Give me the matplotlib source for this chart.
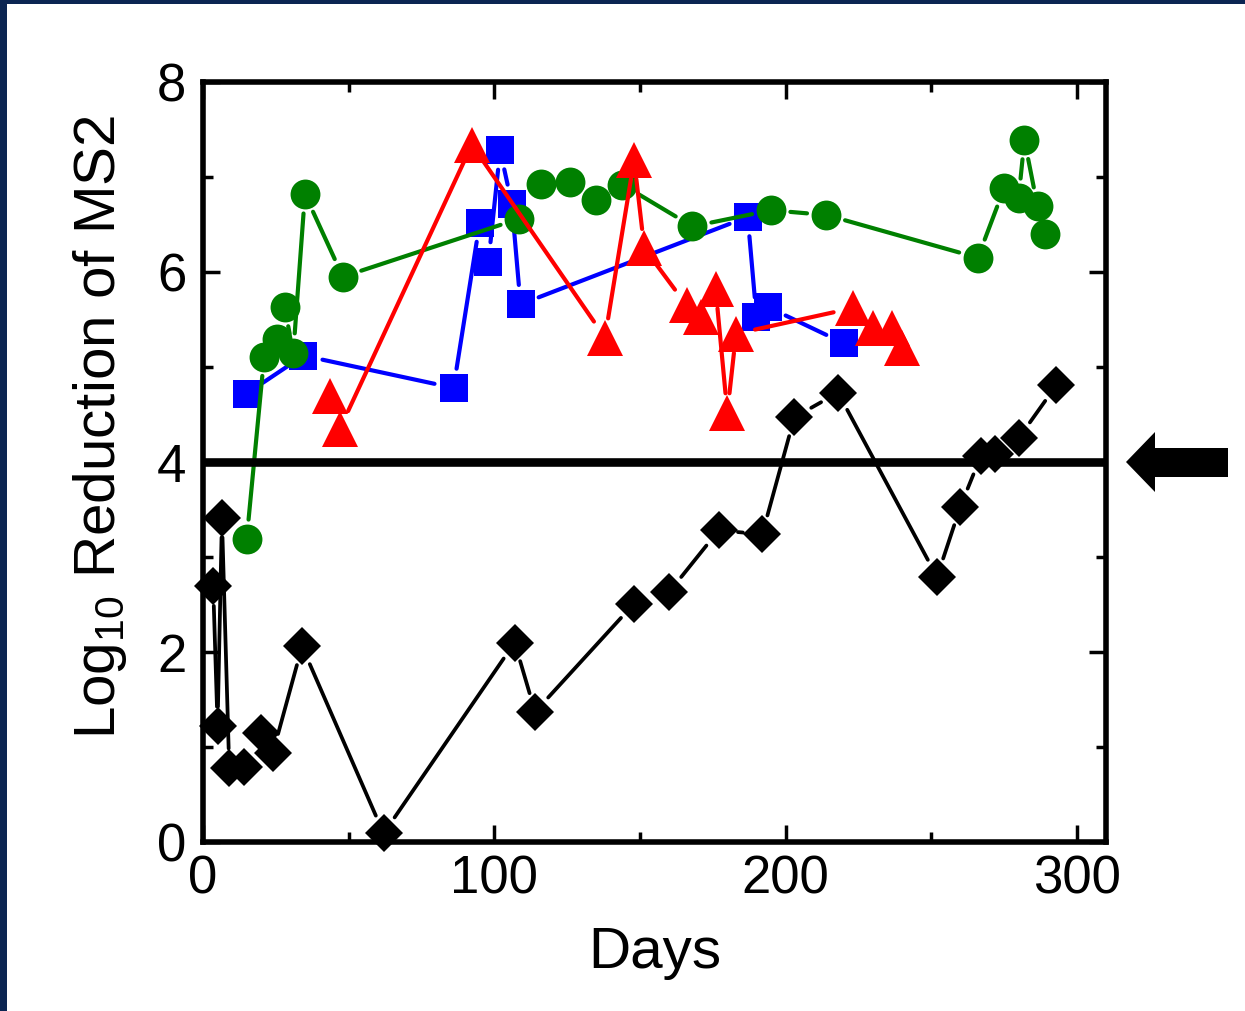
import matplotlib
matplotlib.use('Agg')
import matplotlib.pyplot as plt
from matplotlib.patches import Rectangle, Polygon
from matplotlib.ticker import MultipleLocator
import numpy as np

plt.rcParams['font.family'] = ['Liberation Sans', 'DejaVu Sans']
plt.rcParams['mathtext.fontset'] = 'custom'
plt.rcParams['mathtext.rm'] = 'Liberation Sans'
plt.rcParams['mathtext.it'] = 'Liberation Sans:italic'
plt.rcParams['mathtext.bf'] = 'Liberation Sans:bold'

# ---------------- data ----------------
black_days = [3.5, 5, 6.5, 9, 14, 20, 24, 34, 62, 107, 114, 148, 160, 177, 192,
              203, 218, 252, 260, 267, 272, 280, 293]
black_vals = [2.69, 1.22, 3.41, 0.78, 0.79, 1.15, 0.94, 2.06, 0.09, 2.10, 1.37, 2.51,
              2.63, 3.28, 3.24, 4.47, 4.73, 2.79, 3.53, 4.06, 4.08, 4.25, 4.81]

blue_days = [15, 34.5, 86, 95, 98, 102, 106, 109, 187, 190, 194, 220]
blue_vals = [4.72, 5.12, 4.78, 6.52, 6.11, 7.28, 6.72, 5.66, 6.58, 5.53, 5.63, 5.25]

green_days = [15, 21, 25.5, 28, 31, 35, 48, 108.5, 116, 126, 135, 144, 168, 195, 214,
              266, 275, 280, 282, 286.5, 289]
green_vals = [3.19, 5.11, 5.30, 5.63, 5.15, 6.82, 5.95, 6.56, 6.93, 6.95, 6.76, 6.92,
              6.48, 6.65, 6.60, 6.15, 6.88, 6.78, 7.39, 6.69, 6.40]

red_days = [43.5, 47, 92.3, 138, 148, 151.5, 166, 171, 176, 180, 183, 223, 230, 236.5, 240]
red_vals = [4.69, 4.35, 7.34, 5.31, 7.18, 6.25, 5.65, 5.53, 5.82, 4.52, 5.35, 5.62,
            5.41, 5.41, 5.20]

threshold = 4
x_major = [0, 100, 200, 300]
y_major = [0, 2, 4, 6, 8]

# ---------------- figure ----------------
W, H = 1245, 1011
fig = plt.figure(figsize=(W / 100, H / 100), dpi=100)
fig.patch.set_facecolor('white')


def fx(x):
    return x / W


def fy(y):
    return (H - y) / H


ax = fig.add_axes([fx(203), fy(842), (1106 - 203) / W, (842 - 82) / H])
ax.set_xlim(0, 310)
ax.set_ylim(0, 8)

GAP = 14  # points


def draw_series(days, vals, color, marker, ms, z, lw=3.0):
    pts = ax.transData.transform(np.column_stack([days, vals]))
    gap_px = GAP * fig.dpi / 72.0
    for i in range(len(days) - 1):
        d = np.hypot(*(pts[i + 1] - pts[i]))
        if d < 2 * gap_px + 3:
            continue
        ax.annotate('', xy=(days[i + 1], vals[i + 1]), xytext=(days[i], vals[i]),
                    xycoords='data', textcoords='data',
                    arrowprops=dict(arrowstyle='-', color=color, lw=lw,
                                    shrinkA=GAP, shrinkB=GAP),
                    zorder=z, annotation_clip=False)
    ax.plot(days, vals, ls='none', marker=marker, ms=ms, color=color,
            markeredgewidth=0, zorder=z + 0.1, clip_on=False)


draw_series(black_days, black_vals, 'black', 'D', 19.5, 2, lw=2.7)
draw_series(blue_days, blue_vals, '#0000ff', 's', 19.5, 3)
draw_series(green_days, green_vals, '#008000', 'o', 21.5, 4)
draw_series(red_days, red_vals, '#ff0000', '^', 26.5, 5)

ax.axhline(threshold, color='black', lw=6.2, zorder=6)

# axes styling
for sp in ax.spines.values():
    sp.set_linewidth(4)
    sp.set_zorder(7)
ax.set_xticks(x_major)
ax.set_yticks(y_major)
ax.xaxis.set_minor_locator(MultipleLocator(50))
ax.yaxis.set_minor_locator(MultipleLocator(1))
ax.tick_params(which='both', direction='in', top=True, right=True, width=2.5,
               labelsize=38)
ax.tick_params(which='major', length=12)
ax.tick_params(which='minor', length=7)
ax.tick_params(axis='x', pad=9)
ax.tick_params(axis='y', pad=12)

# labels
fig.text(fx(115), fy(427), 'Log$_{10}$ Reduction of MS2', rotation=90,
         ha='center', va='baseline', rotation_mode='anchor', fontsize=42)
fig.text(fx(655), fy(968), 'Days', ha='center', va='baseline', fontsize=42)

# arrow marking the threshold
arrow = [(1126, 462), (1155, 432), (1155, 448), (1228, 448), (1228, 477),
         (1155, 477), (1155, 492)]
fig.patches.append(Polygon([(fx(a), fy(b)) for a, b in arrow], closed=True,
                           transform=fig.transFigure, facecolor='black',
                           edgecolor='none'))

# dark frame on left and top
navy = '#0b2552'
fig.patches.append(Rectangle((0, 0), fx(7), 1, transform=fig.transFigure,
                             facecolor=navy, edgecolor='none'))
fig.patches.append(Rectangle((0, fy(4)), 1, 1 - fy(4), transform=fig.transFigure,
                             facecolor=navy, edgecolor='none'))

fig.savefig('out.png', dpi=100)
